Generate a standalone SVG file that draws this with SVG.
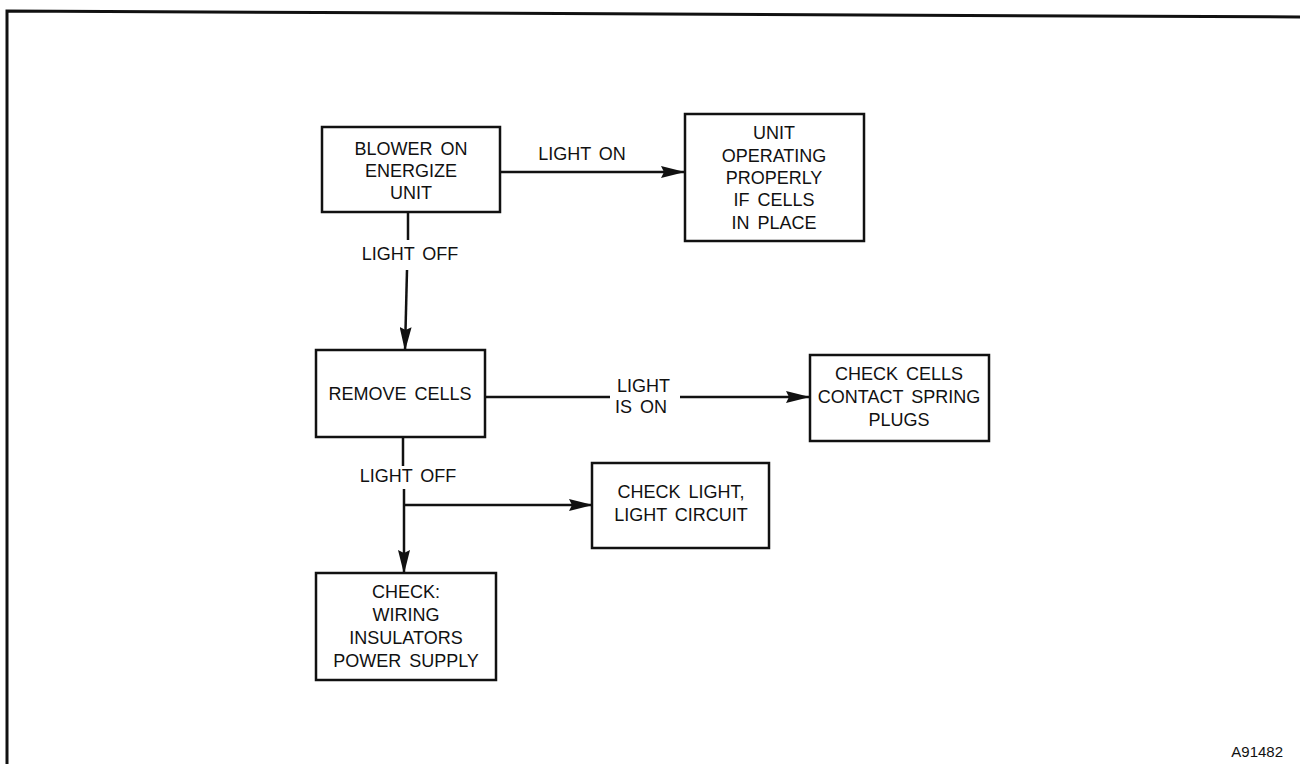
<svg xmlns="http://www.w3.org/2000/svg" width="1300" height="764" viewBox="0 0 1300 764">
<style>
.box{fill:#fff;stroke:#111;stroke-width:2.5}
.t{font-family:"Liberation Sans",Arial,sans-serif;font-size:18px;fill:#111;text-anchor:middle;word-spacing:3px}
.l{text-anchor:start}
.c{fill:none;stroke:#111;stroke-width:2.5}
</style>
<defs>
<marker id="ah" viewBox="0 0 24 12" refX="24" refY="6" markerWidth="24" markerHeight="12" markerUnits="userSpaceOnUse" orient="auto">
<path d="M0,0 L24,6 L0,12 L3,6 Z" fill="#111"/>
</marker>
</defs>
<rect width="1300" height="764" fill="#fff"/>
<path d="M7,764 L7,11 L1300,17" fill="none" stroke="#111" stroke-width="3"/>
<g id="connectors">
<line class="c" x1="500" y1="172" x2="685" y2="172" marker-end="url(#ah)"/>
<line class="c" x1="408" y1="213" x2="408" y2="240"/>
<line class="c" x1="407" y1="270" x2="405" y2="351" marker-end="url(#ah)"/>
<line class="c" x1="485" y1="397" x2="610" y2="397"/>
<line class="c" x1="680" y1="397" x2="810" y2="397" marker-end="url(#ah)"/>
<line class="c" x1="403" y1="437" x2="403" y2="466"/>
<line class="c" x1="404" y1="489" x2="404" y2="574" marker-end="url(#ah)"/>
<line class="c" x1="404" y1="505" x2="593" y2="505" marker-end="url(#ah)"/>
<text class="t" x="582" y="160">LIGHT ON</text>
<text class="t" x="410" y="260">LIGHT OFF</text>
<text class="t l" x="617" y="392">LIGHT</text>
<text class="t l" x="615" y="413">IS ON</text>
<text class="t" x="408" y="482">LIGHT OFF</text>
</g>
<g id="n1">
<rect class="box" x="322" y="127" width="178" height="85"/>
<text class="t" x="411" y="155">BLOWER ON</text>
<text class="t" x="411" y="177">ENERGIZE</text>
<text class="t" x="411" y="199">UNIT</text>
</g>
<g id="n2">
<rect class="box" x="685" y="114" width="179" height="127"/>
<text class="t" x="774" y="139">UNIT</text>
<text class="t" x="774" y="162">OPERATING</text>
<text class="t" x="774" y="184">PROPERLY</text>
<text class="t" x="774" y="206">IF CELLS</text>
<text class="t" x="774" y="229">IN PLACE</text>
</g>
<g id="n3">
<rect class="box" x="316" y="350" width="169" height="87"/>
<text class="t" x="400" y="400">REMOVE CELLS</text>
</g>
<g id="n4">
<rect class="box" x="810" y="355" width="179" height="86"/>
<text class="t" x="899" y="380">CHECK CELLS</text>
<text class="t" x="899" y="403">CONTACT SPRING</text>
<text class="t" x="899" y="426">PLUGS</text>
</g>
<g id="n5">
<rect class="box" x="592" y="463" width="177" height="85"/>
<text class="t" x="681" y="498">CHECK LIGHT,</text>
<text class="t" x="681" y="521">LIGHT CIRCUIT</text>
</g>
<g id="n6">
<rect class="box" x="316" y="573" width="180" height="107"/>
<text class="t" x="406" y="598">CHECK:</text>
<text class="t" x="406" y="621">WIRING</text>
<text class="t" x="406" y="644">INSULATORS</text>
<text class="t" x="406" y="667">POWER SUPPLY</text>
</g>
<text x="1283" y="757" font-family="'Liberation Sans',Arial,sans-serif" font-size="15" fill="#111" text-anchor="end">A91482</text>
</svg>
